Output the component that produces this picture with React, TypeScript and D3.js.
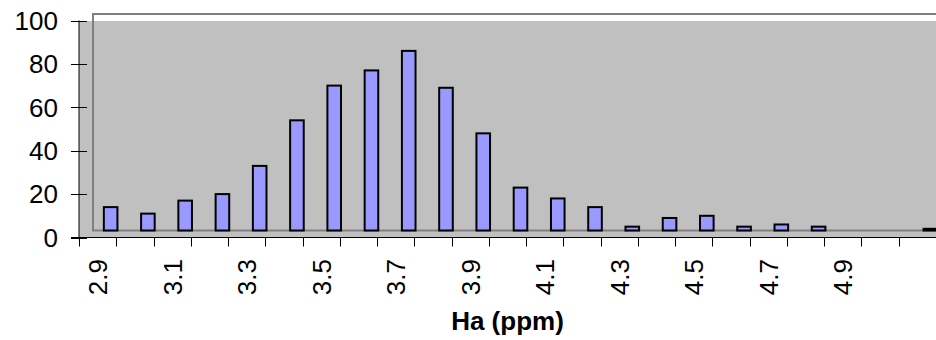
import React from "react";
import * as d3 from "d3";

const categories = ["2.9","3.0","3.1","3.2","3.3","3.4","3.5","3.6","3.7","3.8","3.9","4.0","4.1","4.2","4.3","4.4","4.5","4.6","4.7","4.8","4.9","5.0","5.1"];
const counts = [14,11,17,20,33,54,70,77,86,69,48,23,18,14,5,9,10,5,6,5,0,0,4];
const xTickLabels = ["2.9","","3.1","","3.3","","3.5","","3.7","","3.9","","4.1","","4.3","","4.5","","4.7","","4.9","",""];
const yTicks = [0,20,40,60,80,100];
const xTitle = "Ha (ppm)";

const W = 936, H = 340;
const left = 79, right = 936, top = 20.5, bottom = 237.5;
const depthX = 13, depthY = 7;
const FONT = "'Liberation Sans', Arial, Helvetica, sans-serif";

export default function App() {
  const x = d3.scaleBand<string>().domain(categories).range([left, right]).padding(0);
  const y = d3.scaleLinear().domain([0, 100]).range([bottom, top]);
  const bw = x.bandwidth();
  const barW = 13.6;
  return (
    <div style={{ position: "absolute", left: 0, top: 0 }}>
      <svg width={W} height={H} style={{ display: "block" }}>
        <rect x={0} y={0} width={W} height={H} fill="#ffffff" />
        {/* plot area */}
        <rect x={left} y={top + 0.5} width={right - left} height={bottom - top - 0.5} fill="#C0C0C0" />
        {/* back wall border */}
        <rect x={left + 14} y={top - 6.5} width={right - left} height={bottom - depthY - (top - 6.5)} fill="none" stroke="#808080" strokeWidth={2} />
        {/* bars */}
        {categories.map((c, i) => {
          const v = counts[i];
          if (!v) return null;
          const cx = (x(c) as number) + bw / 2 + depthX;
          const y0 = y(0) - depthY;
          const y1 = y(v);
          return (
            <rect key={c} x={cx - barW / 2} y={y1} width={barW} height={Math.max(0, y0 - y1)}
              fill="#9999FF" stroke="#000000" strokeWidth={2} />
          );
        })}
        {/* y axis */}
        <line x1={left} x2={left} y1={top} y2={bottom} stroke="#000" strokeWidth={1} />
        {yTicks.map((t) => (
          <g key={t}>
            <line x1={left - 8} x2={left + 8} y1={Math.round(y(t)) + 0.5} y2={Math.round(y(t)) + 0.5} stroke="#000" strokeWidth={1} />
            <text x={58} y={y(t)} dy="0.36em" textAnchor="end" fontFamily={FONT} fontSize={26} fill="#000">{t}</text>
          </g>
        ))}
        {/* x axis */}
        <line x1={left - 8} x2={right} y1={bottom} y2={bottom} stroke="#000" strokeWidth={1} />
        {categories.concat(["end"]).map((c, i) => {
          const tx = Math.round(left + i * bw) + 0.5;
          return <line key={"t" + i} x1={tx} x2={tx} y1={bottom} y2={bottom + 9} stroke="#000" strokeWidth={1} />;
        })}
        {categories.map((c, i) => {
          const lbl = xTickLabels[i];
          if (!lbl) return null;
          const cx = (x(c) as number) + bw / 2;
          return (
            <text key={"l" + c} transform={`translate(${cx},259) rotate(-90)`} dy="0.36em" textAnchor="end"
              fontFamily={FONT} fontSize={26} fill="#000">{lbl}</text>
          );
        })}
        <text x={(left + right) / 2} y={330} textAnchor="middle" fontFamily={FONT} fontSize={26} fontWeight="bold" fill="#000">{xTitle}</text>
      </svg>
    </div>
  );
}
